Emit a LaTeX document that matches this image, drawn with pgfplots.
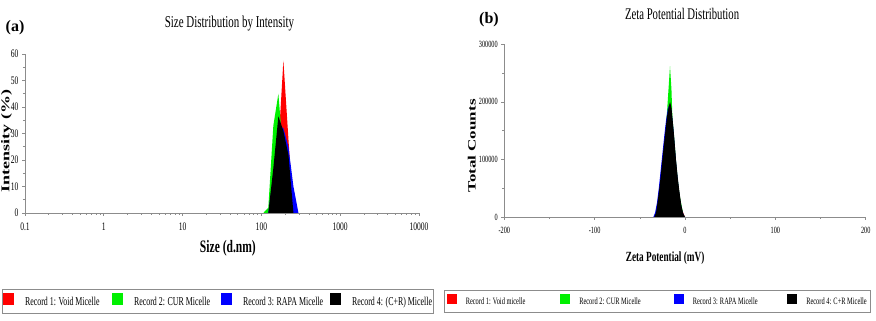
\documentclass[border=0pt]{standalone}
\usepackage{fontspec}
\setmainfont{Liberation Serif}[FakeStretch=0.66]
\newfontfamily\plainserif{Liberation Serif}
\usepackage{graphicx}
\usepackage{pgfplots}
\pgfplotsset{compat=1.18}
\definecolor{cR}{RGB}{255,0,0}
\definecolor{cG}{RGB}{0,240,0}
\definecolor{cB}{RGB}{0,0,255}
\definecolor{axgray}{RGB}{140,140,140}

\pgfplotstableread{
x y
122.4 0
141.8 8
164.2 25
190.1 57.5
220.2 28
255.0 0
}\sizeRed
\pgfplotstableread{
x y
105.7 0
122.4 2
141.8 33
164.2 45
190.1 22
220.2 3
255.0 0
}\sizeGreen
\pgfplotstableread{
x y
122.4 0
141.8 14
164.2 33
190.1 32
220.2 25
255.0 10
295.3 0
}\sizeBlue
\pgfplotstableread{
x y
122.4 0
141.8 17
164.2 36.5
190.1 31
220.2 22
255.0 0
}\sizeBlack

\pgfplotstableread{
x y
-30 0
-28 15000
-25 80000
-20 160000
-16 185000
-12 130000
-8 60000
-4 15000
0 0
}\zetaRed
\pgfplotstableread{
x y
-34 0
-30 25000
-26 80000
-22 140000
-20 180000
-18 228000
-16.6 262000
-15 222000
-14 175000
-12 138000
-10 98000
-8 65000
-6 38000
-2 5000
0 0
}\zetaGreen
\pgfplotstableread{
x y
-35 0
-33 8000
-31 25000
-29 50000
-27 80000
-25 110000
-23 140000
-21 168000
-19 188000
-17 195000
-15 185000
-13 155000
-11 115000
-9 80000
-7 50000
-5 25000
-3 10000
-1 2000
0 0
}\zetaBlue
\pgfplotstableread{
x y
-34 0
-32 8000
-30 30000
-28 55000
-26 85000
-24 116000
-22 145000
-20 174000
-18 192000
-16.5 200000
-15 190000
-14 174000
-12 140000
-10 100000
-8 68000
-6 42000
-4 20000
-2 6000
0 0
}\zetaBlack

\pgfplotsset{
  myaxis/.style={
    scale only axis,
    anchor=south west,
    axis x line*=bottom,
    axis y line*=left,
    axis line style={axgray, line width=0.6pt, -},
    tick style={axgray, line width=0.6pt},
    tick align=outside,
    major tick length=3pt,
    minor tick length=2pt,
    /pgf/number format/assume math mode=true,
    legend columns=4,
    legend cell align=left,
  },
}

\begin{document}
\begin{tikzpicture}
\useasboundingbox (0,0) rectangle (876pt,321pt);

% ---------------- (a) ----------------
\begin{axis}[myaxis,
  at={(25pt,108pt)},
  width=394pt, height=159pt,
  xmode=log, xmin=0.1, xmax=10000,
  ymin=0, ymax=60,
  xtick={0.1,1,10,100,1000,10000},
  xticklabels={0.1,1,10,100,1000,10000},
  minor xtick={0.2,0.3,0.4,0.5,0.6,0.7,0.8,0.9,2,3,4,5,6,7,8,9,20,30,40,50,60,70,80,90,200,300,400,500,600,700,800,900,2000,3000,4000,5000,6000,7000,8000,9000},
  ytick={0,10,20,30,40,50,60},
  minor y tick num=1,
  tick label style={font=\fontsize{11.5}{12}\selectfont},
  every x tick label/.append style={yshift=-3pt},
  title={Size Distribution by Intensity},
  title style={at={(axis description cs:0.519,1.151)}, anchor=center, font=\fontsize{16.6}{18}\selectfont},
  xlabel={\textbf{Size (d.nm)}},
  xlabel style={at={(axis description cs:0.515,-0.22)}, anchor=center, font=\fontsize{17.5}{19}\selectfont},
  ylabel={\scalebox{1}[0.66]{\fontsize{18}{20}\selectfont\plainserif\bfseries Intensity (\%)}},
  ylabel style={at={(axis description cs:-0.047,0.453)}, anchor=center},
  legend image code/.code={\fill[#1] (0pt,-3pt) rectangle (11pt,9pt);},
  legend style={at={(0.4886,-0.5535)}, anchor=center, draw=axgray, line width=0.6pt,
    inner xsep=1pt, inner ysep=4pt, font=\fontsize{12}{13}\selectfont,
    nodes={inner xsep=0pt},
    /tikz/every even column/.append style={column sep=7pt},
    /tikz/every odd column/.append style={column sep=11pt}},
]
\addplot[fill=cR, draw=none] table[x=x,y=y] {\sizeRed} \closedcycle;
\addlegendentry{\makebox[80pt][l]{Record 1: Void Micelle}}
\addplot[fill=cG, draw=none] table[x=x,y=y] {\sizeGreen} \closedcycle;
\addlegendentry{\makebox[80pt][l]{Record 2: CUR Micelle}}
\addplot[fill=cB, draw=none] table[x=x,y=y] {\sizeBlue} \closedcycle;
\addlegendentry{\makebox[80pt][l]{Record 3: RAPA Micelle}}
\addplot[fill=black, draw=none] table[x=x,y=y] {\sizeBlack} \closedcycle;
\addlegendentry{\makebox[80pt][l]{Record 4: (C+R) Micelle}}
\end{axis}

% ---------------- (b) ----------------
\begin{axis}[myaxis,
  at={(504.3pt,104pt)},
  width=361.4pt, height=172.7pt,
  xmin=-200, xmax=200,
  ymin=0, ymax=300000,
  xtick={-200,-100,0,100,200},
  xticklabels={-200,-100,0,100,200},
  minor xtick={-150,-50,50,150},
  ytick={0,100000,200000,300000},
  yticklabels={0,100000,200000,300000},
  minor ytick={50000,150000,250000},
  scaled y ticks=false,
  tick label style={font=\fontsize{9.5}{10}\selectfont},
  every x tick label/.append style={yshift=-4pt},
  title={Zeta Potential Distribution},
  title style={at={(axis description cs:0.492,1.141)}, anchor=center, font=\fontsize{16.2}{18}\selectfont},
  xlabel={\textbf{Zeta Potential (mV)}},
  xlabel style={at={(axis description cs:0.445,-0.237)}, anchor=center, font=\fontsize{14}{16}\selectfont},
  ylabel={\scalebox{1}[0.66]{\fontsize{17}{19}\selectfont\plainserif\bfseries Total Counts}},
  ylabel style={at={(axis description cs:-0.090,0.411)}, anchor=center},
  legend image code/.code={\fill[#1] (0pt,-2pt) rectangle (10pt,8pt);},
  legend style={at={(0.424,-0.486)}, anchor=center, draw=axgray, line width=0.6pt,
    inner xsep=2pt, inner ysep=4pt, font=\fontsize{9.7}{11}\selectfont,
    nodes={inner xsep=0pt},
    /tikz/every even column/.append style={column sep=32.5pt},
    /tikz/every odd column/.append style={column sep=9pt}},
]
\addplot[fill=cR, draw=none] table[x=x,y=y] {\zetaRed} \closedcycle;
\addlegendentry{\makebox[62pt][l]{Record 1: Void micelle}}
\addplot[fill=cG, draw=none] table[x=x,y=y] {\zetaGreen} \closedcycle;
\addlegendentry{\makebox[62pt][l]{Record 2: CUR Micelle}}
\addplot[fill=cB, draw=none] table[x=x,y=y] {\zetaBlue} \closedcycle;
\addlegendentry{\makebox[62pt][l]{Record 3: RAPA Micelle}}
\addplot[fill=black, draw=none] table[x=x,y=y] {\zetaBlack} \closedcycle;
\addlegendentry{\makebox[62pt][l]{Record 4: C+R Micelle}}
\end{axis}

\node[font=\plainserif\bfseries\fontsize{16}{18}\selectfont] at (15pt,293pt) {(a)};
\node[font=\plainserif\bfseries\fontsize{16}{18}\selectfont] at (489pt,301pt) {(b)};
\end{tikzpicture}
\end{document}
